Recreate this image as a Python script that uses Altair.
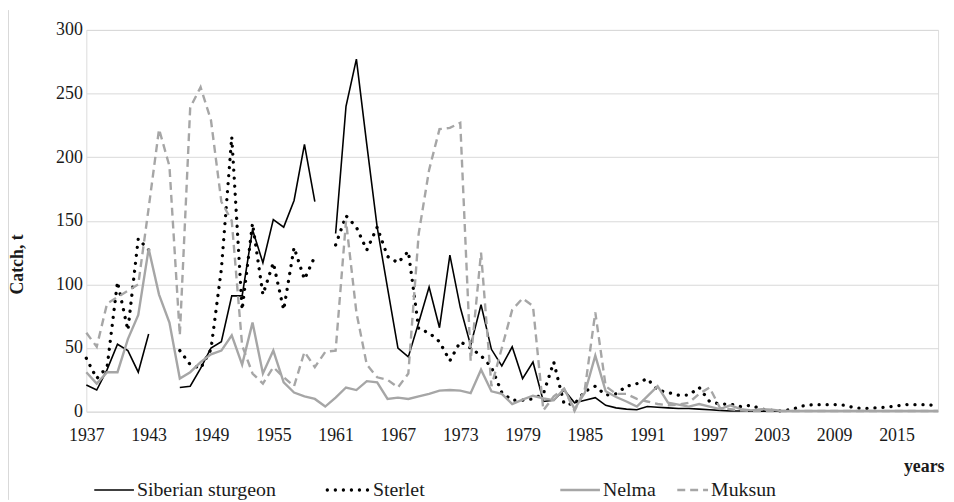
import altair as alt
import pandas as pd

years = list(range(1937, 2020))

sturgeon = [21, 17, 33, 53, 48, 31, 61, None, None, 19, 20, 34, 50, 55, 91, 91, 143, 117, 151, 145,
            166, 210, 165, None, 140, 240, 277, 210, 145, 97, 50, 43, 70, 98, 66, 123, 82, 52, 84, 49,
            36, 51, 26, 39, 8, 9, 17, 7, 9, 11, 5, 3, 2, 1.5, 4, 3.5, 3, 2.5, 2.5, 2, 1.5, 1, 0.5, 0.5] + [0.3] * 19

sterlet = [42, 26, 35, 102, 64, 136, 127, None, None, 48, 37, 34, 49, 112, 216, 80, 148, 92, 117, 80,
           129, 104, 122, None, 131, 154, 145, 127, 145, 122, 117, 126, 65, 62, 55, 40, 55, 50, 44, 35,
           15, 9, 9, 10, 14, 39, 6, 6, 16, 20, 13, 14, 20, 22, 26, 17, 15, 13, 13, 19, 8, 6, 6, 4,
           5, 2, 1, 0.5, 2, 4.5, 5.5, 5.5, 5.5, 5, 3, 2.5, 3, 3.5, 4.5, 5.5, 5.5, 5.5, 4.5]

nelma = [31, 22, 31, 31, 57, 76, 128, 92, 70, 26, 31, 39, 45, 48, 60, 37, 70, 30, 48, 23,
         15, 12, 10, 4, 11, 19, 17, 24, 23, 10, 11, 10, 12, 14, 16.5, 17, 16.5, 14.5, 33, 16,
         14, 6, 9.5, 12.5, 10.5, 9, 18, 2, 15, 44, 16, 11.5, 8, 4, 12, 20, 7, 5.5, 4, 6,
         4, 2, 5, 2, 1, 2, 1.5, 0.5] + [0.5] * 15

muksun = [62, 51, 85, 90, 95, 100, 160, 222, 193, 60, 239, 255, 229, 165, 150, 52, 30, 22, 35, 27,
          20, 47, 35, 47, 48, 150, 78, 37, 27, 25, 19, 30, 140, 190, 222, 223, 227, 40, 125, 20,
          50, 80, 89, 83, 1, 12, 18, 0.5, 18, 78, 20, 14, 14, 10, 8, 6, 5, 5.5, 7, 14,
          19, 3, 2, 1] + [0.5] * 19

series_names = ["Siberian sturgeon", "Sterlet", "Nelma", "Muksun"]
y_ticks = [0, 50, 100, 150, 200, 250, 300]
x_ticks = list(range(1937, 2016, 6))

df = pd.DataFrame({"year": years, "sturgeon": sturgeon, "sterlet": sterlet,
                   "nelma": nelma, "muksun": muksun})

FONT = "Liberation Serif, Times New Roman, serif"
TXT = "#1a1a1a"
GREY = "#a6a6a6"

xenc = alt.X("year:Q",
             scale=alt.Scale(domain=[1937, 2019], nice=False, zero=False),
             axis=alt.Axis(values=x_ticks, format="d", grid=False, domain=False, ticks=False,
                           labelPadding=15, labelFont=FONT, labelFontSize=18, labelColor=TXT,
                           labelFlush=False, labelOverlap=False,
                           title="years", titleFont=FONT, titleFontSize=18, titleFontWeight="bold",
                           titleColor=TXT, titleX=865, titleY=55, titleAlign="right",
                           titleBaseline="middle"))

yaxis = alt.Axis(values=y_ticks, grid=True, gridColor="#d9d9d9", gridWidth=1, domain=False,
                 ticks=False, labelPadding=4, labelFont=FONT, labelFontSize=18, labelColor=TXT,
                 title="Catch, t", titleFont=FONT, titleFontSize=18, titleFontWeight="bold",
                 titleColor=TXT, titleX=-69, titleY=236, titleAlign="center",
                 titleBaseline="middle", titleAngle=-90)
yscale = alt.Scale(domain=[0, 300], nice=False)


def yenc(col):
    return alt.Y(f"{col}:Q", scale=yscale, axis=yaxis, title="Catch, t")


base = alt.Chart(df).encode(x=xenc)

l_sturgeon = base.mark_line(color="#000000", strokeWidth=1.6).encode(y=yenc("sturgeon"))
l_sterlet = base.mark_line(color="#000000", strokeWidth=3.3, strokeDash=[0.1, 8],
                           strokeCap="round").encode(y=yenc("sterlet"))
l_nelma = base.mark_line(color=GREY, strokeWidth=2.4).encode(y=yenc("nelma"))
l_muksun = base.mark_line(color=GREY, strokeWidth=2.4, strokeDash=[8, 5]).encode(y=yenc("muksun"))

# legend (drawn below the plot)
LEG_Y = 464
leg_styles = [
    dict(color="#000000", strokeWidth=1.6),
    dict(color="#000000", strokeWidth=3.3, strokeDash=[0.1, 8], strokeCap="round"),
    dict(color=GREY, strokeWidth=2.4),
    dict(color=GREY, strokeWidth=2.4, strokeDash=[8, 5]),
]
leg_sym = [(8, 48), (243, 286), (478, 518), (596, 627)]
leg_layers = []
for name, st, (a, b) in zip(series_names, leg_styles, leg_sym):
    d = pd.DataFrame({"label": [name]})
    leg_layers.append(alt.Chart(d).mark_rule(**st).encode(
        x=alt.value(a), x2=alt.value(b), y=alt.value(LEG_Y)))
    leg_layers.append(alt.Chart(d).mark_text(align="left", baseline="middle", font=FONT,
                                             fontSize=20, color=TXT).encode(
        x=alt.value(b + 3), y=alt.value(LEG_Y), text="label:N"))

border = alt.Chart(pd.DataFrame({"b": [0]})).mark_rule(color="#d9d9d9", strokeWidth=1).encode(
    x=alt.value(-78.5), y=alt.value(-20), y2=alt.value(474))

chart = alt.layer(l_sturgeon, l_sterlet, l_nelma, l_muksun, *leg_layers, border).properties(
    width=859, height=385,
    padding={"left": 79, "top": 20, "right": 8, "bottom": 89},
    autosize=alt.AutoSizeParams(type="none"),
).configure_view(stroke=None).configure(background="white")

chart.save("out.html", embed_options={"renderer": "svg", "actions": False})
